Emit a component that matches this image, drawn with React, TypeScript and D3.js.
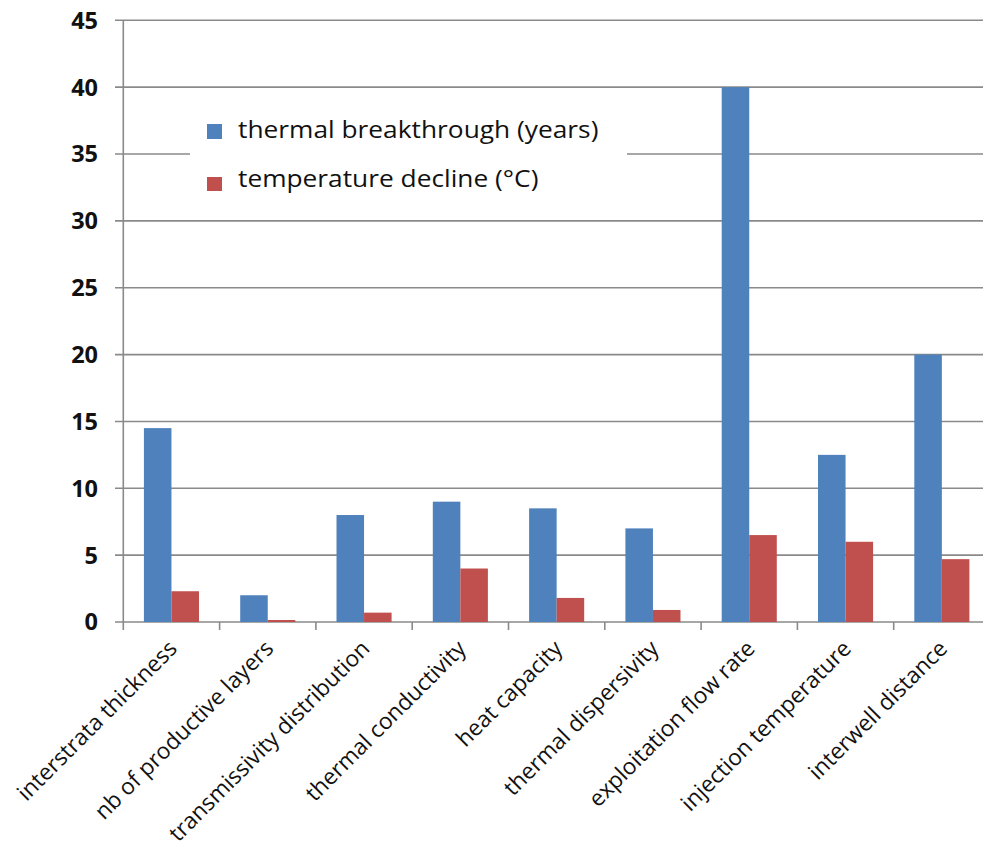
import React from "react";
import * as d3 from "d3";

const categories = [
  "interstrata thickness",
  "nb of productive layers",
  "transmissivity distribution",
  "thermal conductivity",
  "heat capacity",
  "thermal dispersivity",
  "exploitation flow rate",
  "injection temperature",
  "interwell distance",
];
const breakthrough = [14.5, 2, 8, 9, 8.5, 7, 40, 12.5, 20];
const decline = [2.3, 0.15, 0.7, 4, 1.8, 0.9, 6.5, 6, 4.7];
const seriesNames = ["thermal breakthrough (years)", "temperature decline (°C)"];
const yTicks = [0, 5, 10, 15, 20, 25, 30, 35, 40, 45];

const W = 983;
const H = 850;
const BLUE = "#4F81BD";
const RED = "#C0504D";
const GRID = "#8a8a8a";
const FONT = "'Open Sans', sans-serif";

export default function App() {
  const x0 = 123.3;
  const x1 = x0 + 96.3 * categories.length;
  const yTop = 20.3;
  const yBot = 622;
  const x = d3.scaleBand<string>().domain(categories).range([x0, x1]).padding(0);
  const y = d3.scaleLinear().domain([0, 45]).range([yBot, yTop]);
  const bw = x.bandwidth();
  const barW = bw * 0.286;

  return (
    <svg width={W} height={H} style={{ display: "block", position: "absolute", left: 0, top: 0, background: "#fff" }}>
      <rect x={0} y={0} width={W} height={H} fill="#fff" />
      {yTicks.map((t) => (
        <line key={t} x1={115} x2={W} y1={y(t)} y2={y(t)} stroke={GRID} strokeWidth={1.6} />
      ))}
      <line x1={x0} x2={x0} y1={yTop} y2={yBot + 8} stroke={GRID} strokeWidth={1.6} />
      {categories.map((c, i) => (
        <line key={c} x1={x0 + bw * (i + 1)} x2={x0 + bw * (i + 1)} y1={yBot} y2={yBot + 8} stroke={GRID} strokeWidth={1.6} />
      ))}
      {categories.map((c, i) => {
        const cx = (x(c) as number) + bw / 2;
        return (
          <g key={c}>
            <rect x={cx - barW} y={y(breakthrough[i])} width={barW} height={yBot - y(breakthrough[i])} fill={BLUE} />
            <rect x={cx} y={y(decline[i])} width={barW} height={yBot - y(decline[i])} fill={RED} />
          </g>
        );
      })}
      {yTicks.map((t) => (
        <text key={t} x={98} y={y(t)} dy="0.36em" textAnchor="end" fontFamily={FONT} fontWeight="bold" fontSize={23.5} fill="#111">
          {t}
        </text>
      ))}
      {categories.map((c) => {
        const cx = (x(c) as number) + bw / 2 + 7;
        const cy = 650;
        return (
          <text key={c} x={cx} y={cy} textAnchor="end" transform={`rotate(-45 ${cx} ${cy})`} fontFamily={FONT} fontSize={22.6} fill="#111">
            {c}
          </text>
        );
      })}
      <rect x={190} y={108} width={437} height={95} fill="#fff" />
      <rect x={207} y={124} width={15} height={15} fill={BLUE} />
      <rect x={207} y={177} width={15} height={14} fill={RED} />
      <g transform="translate(238,138) scale(1.12,1)">
        <text x={0} y={0} fontFamily={FONT} fontSize={23.5} fill="#111">{seriesNames[0]}</text>
      </g>
      <g transform="translate(238,187) scale(1.12,1)">
        <text x={0} y={0} fontFamily={FONT} fontSize={23.5} fill="#111">{seriesNames[1]}</text>
      </g>
    </svg>
  );
}
